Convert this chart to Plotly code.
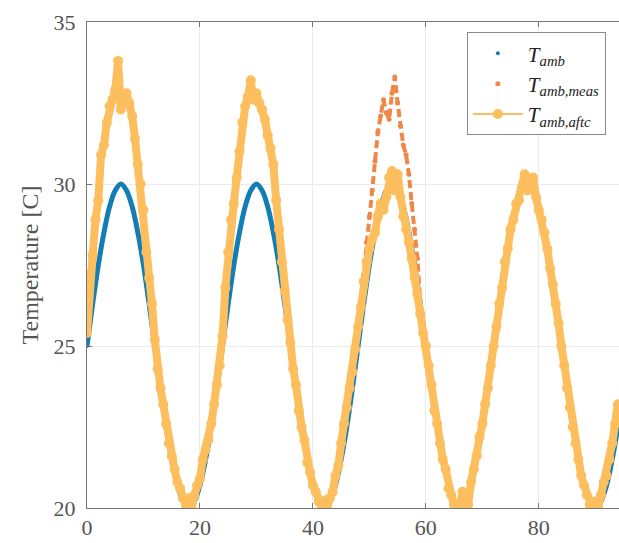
import plotly.graph_objects as go

# ---------------- data ----------------
# true ambient temperature, hourly samples
hours_amb = list(range(96))
temp_amb = [25.0, 26.3, 27.5, 28.5, 29.3, 29.8, 30.0, 29.8, 29.3, 28.5, 27.5, 26.3,
            25.0, 23.7, 22.5, 21.5, 20.7, 20.2, 20.0, 20.2, 20.7, 21.5, 22.5, 23.7,
            25.0, 26.3, 27.5, 28.5, 29.3, 29.8, 30.0, 29.8, 29.3, 28.5, 27.5, 26.3,
            25.0, 23.7, 22.5, 21.5, 20.7, 20.2, 20.0, 20.2, 20.7, 21.5, 22.5, 23.7,
            25.0, 26.3, 27.5, 28.5, 29.3, 29.8, 30.0, 29.8, 29.3, 28.5, 27.5, 26.3,
            25.0, 23.7, 22.5, 21.5, 20.7, 20.2, 20.0, 20.2, 20.7, 21.5, 22.5, 23.7,
            25.0, 26.3, 27.5, 28.5, 29.3, 29.8, 30.0, 29.8, 29.3, 28.5, 27.5, 26.3,
            25.0, 23.7, 22.5, 21.5, 20.7, 20.2, 20.0, 20.2, 20.7, 21.5, 22.5, 23.7]

# measured / corrected temperatures, half-hour samples 0 ... 94 h
hours_meas = [i / 2 for i in range(189)]
temp_meas = [
    # day 1
    25.4, 27.2, 27.8, 28.9, 29.5, 30.9, 31.2, 31.9, 32.4, 32.6, 32.9, 33.8,
    32.3, 32.7, 32.8, 32.5, 32.1, 31.4, 30.6, 30.0, 29.2, 27.9, 27.1, 26.3,
    25.2, 24.3, 23.7, 23.2, 22.6, 22.0, 21.6, 21.2, 20.8, 20.6, 20.3, 20.1,
    20.3, 20.0, 20.4, 20.7, 20.9, 21.5, 21.8, 22.1, 22.6, 23.2, 23.8, 24.4,
    # day 2
    25.3, 26.8, 27.9, 28.9, 29.4, 30.2, 31.0, 31.9, 32.4, 32.7, 33.2, 32.6,
    32.8, 32.5, 32.3, 32.0, 31.5, 31.1, 30.6, 29.5, 28.6, 27.6, 26.7, 25.8,
    25.1, 24.3, 23.8, 23.0, 22.5, 22.1, 21.4, 21.1, 20.7, 20.5, 20.2, 20.1,
    20.2, 20.0, 20.3, 20.5, 21.0, 21.3, 22.0, 22.6, 23.1, 23.7, 24.2, 24.9,
    # day 3
    25.6, 26.4, 27.2, 28.2, 29.0, 29.8, 30.7, 31.6, 32.1, 32.6, 32.2, 32.0,
    32.8, 33.3, 32.5, 31.8, 31.2, 30.9, 30.3, 29.4, 28.6, 27.7, 26.4, 25.7,
    25.0, 24.4, 23.8, 23.0, 22.6, 22.0, 21.5, 21.2, 20.6, 20.4, 20.1, 20.0,
    20.1, 20.5, 20.2, 20.1, 20.8, 21.2, 21.6, 22.2, 22.6, 23.2, 23.7, 24.4,
    # day 4
    25.0, 25.6, 26.3, 26.8, 27.6, 28.0, 28.6, 28.9, 29.4, 29.5, 29.9, 30.3,
    29.8, 30.1, 30.2, 29.6, 29.2, 28.9, 28.5, 28.0, 27.4, 26.9, 26.3, 25.7,
    25.0, 24.4, 23.7, 23.1, 22.5, 22.0, 21.5, 21.0, 20.7, 20.4, 20.1, 20.0,
    20.2, 20.0, 20.4, 20.8, 21.0, 21.5, 22.0, 22.6, 23.2,
]
temp_aftc = [
    # day 1
    25.4, 27.2, 27.8, 28.9, 29.5, 30.9, 31.2, 31.9, 32.4, 32.6, 32.9, 33.8,
    32.3, 32.7, 32.8, 32.5, 32.1, 31.4, 30.6, 30.0, 29.2, 27.9, 27.1, 26.3,
    25.2, 24.3, 23.7, 23.2, 22.6, 22.0, 21.6, 21.2, 20.8, 20.6, 20.3, 20.1,
    20.3, 20.0, 20.4, 20.7, 20.9, 21.5, 21.8, 22.1, 22.6, 23.2, 23.8, 24.4,
    # day 2
    25.3, 26.8, 27.9, 28.9, 29.4, 30.2, 31.0, 31.9, 32.4, 32.7, 33.2, 32.6,
    32.8, 32.5, 32.3, 32.0, 31.5, 31.1, 30.6, 29.5, 28.6, 27.6, 26.7, 25.8,
    25.1, 24.3, 23.8, 23.0, 22.5, 22.1, 21.4, 21.1, 20.7, 20.5, 20.2, 20.1,
    20.2, 20.0, 20.3, 20.5, 21.0, 21.3, 22.0, 22.6, 23.1, 23.7, 24.2, 24.9,
    # day 3 (fault corrected)
    25.6, 26.2, 27.0, 27.6, 28.0, 28.3, 28.5, 29.0, 29.4, 29.2, 29.6, 30.2,
    30.4, 29.8, 30.3, 29.6, 29.0, 28.6, 28.2, 27.7, 27.1, 26.6, 26.0, 25.4,
    25.0, 24.4, 23.8, 23.0, 22.6, 22.0, 21.5, 21.2, 20.6, 20.4, 20.1, 20.0,
    20.1, 20.5, 20.2, 20.1, 20.8, 21.2, 21.6, 22.2, 22.6, 23.2, 23.7, 24.4,
    # day 4
    25.0, 25.6, 26.3, 26.8, 27.6, 28.0, 28.6, 28.9, 29.4, 29.5, 29.9, 30.3,
    29.8, 30.1, 30.2, 29.6, 29.2, 28.9, 28.5, 28.0, 27.4, 26.9, 26.3, 25.7,
    25.0, 24.4, 23.7, 23.1, 22.5, 22.0, 21.5, 21.0, 20.7, 20.4, 20.1, 20.0,
    20.2, 20.0, 20.4, 20.8, 21.0, 21.5, 22.0, 22.6, 23.2,
]

x_ticks = [0, 20, 40, 60, 80]
y_ticks = [20, 25, 30, 35]

name_amb = "<i>T</i><sub><i>amb</i></sub>"
name_meas = "<i>T</i><sub><i>amb,meas</i></sub>"
name_aftc = "<i>T</i><sub><i>amb,aftc</i></sub>"

# ---------------- style ----------------
BLUE = "#137EB4"
ORANGE = "#EF8748"
YELLOW = "#FDBF5E"
FONT = "Liberation Serif, Times New Roman, serif"
TXT = "#555555"

fig = go.Figure()

# ambient (body + legend entry)
fig.add_trace(go.Scatter(x=hours_amb, y=temp_amb, mode="lines",
                         line=dict(color=BLUE, width=5, shape="spline", smoothing=1.0),
                         showlegend=False, hoverinfo="skip"))
fig.add_trace(go.Scatter(x=hours_amb, y=temp_amb, mode="markers", name=name_amb,
                         marker=dict(color=BLUE, size=4)))

# measured (body + legend entry)
fig.add_trace(go.Scatter(x=hours_meas, y=temp_meas, mode="lines",
                         line=dict(color=ORANGE, width=4, dash="8px,4px"),
                         showlegend=False, hoverinfo="skip"))
fig.add_trace(go.Scatter(x=hours_meas, y=temp_meas, mode="markers", name=name_meas,
                         marker=dict(color=ORANGE, size=5)))

# after correction (body + legend entry)
fig.add_trace(go.Scatter(x=hours_meas, y=temp_aftc, mode="lines",
                         line=dict(color=YELLOW, width=8),
                         showlegend=False, hoverinfo="skip"))
fig.add_trace(go.Scatter(x=hours_meas, y=temp_aftc, mode="lines+markers", name=name_aftc,
                         line=dict(color=YELLOW, width=2),
                         marker=dict(color=YELLOW, size=10)))

fig.update_layout(
    width=619, height=543,
    margin=dict(l=87, r=0, t=22, b=35),
    paper_bgcolor="white", plot_bgcolor="white",
    font=dict(family=FONT, size=22, color=TXT),
    legend=dict(x=0.714, y=0.979, xanchor="left", yanchor="top",
                bgcolor="white", bordercolor="#8a8a8a", borderwidth=1,
                font=dict(family=FONT, size=21, color="#222222"),
                itemwidth=50, tracegroupgap=0),
)
fig.update_xaxes(range=[0, 94.2], tickvals=x_ticks, ticks="inside", ticklen=5,
                 tickcolor="#777777", showline=True, linecolor="#777777", linewidth=1,
                 mirror="ticks", showgrid=True, gridcolor="#ebebeb", gridwidth=1,
                 zeroline=False, tickfont=dict(family=FONT, size=22, color=TXT))
fig.update_yaxes(range=[20, 35], tickvals=y_ticks, ticks="inside", ticklen=5,
                 tickcolor="#777777", showline=True, linecolor="#777777", linewidth=1,
                 showgrid=True, gridcolor="#ebebeb", gridwidth=1, zeroline=False,
                 ticklabelstandoff=6,
                 tickfont=dict(family=FONT, size=22, color=TXT),
                 title=dict(text="Temperature [C]", standoff=8,
                            font=dict(family=FONT, size=24, color=TXT)))

fig.write_html("out.html", config={"displayModeBar": False},
               post_script="document.body.style.margin='0px';document.body.style.overflow='hidden';")
